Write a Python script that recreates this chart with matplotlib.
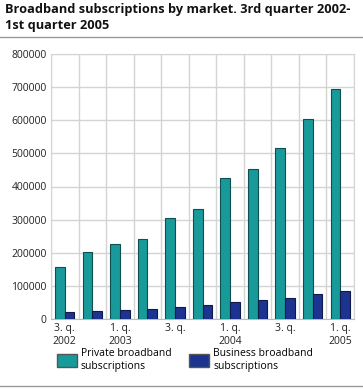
import matplotlib
matplotlib.use("Agg")
import matplotlib.pyplot as plt
import numpy as np
from matplotlib.patches import Patch

categories = ["3. q.\n2002", "", "1. q.\n2003", "", "3. q.", "", "1. q.\n2004", "", "3. q.", "", "1. q.\n2005"]
private = [157000, 201000, 225000, 242000, 306000, 333000, 427000, 454000, 516000, 604000, 694000]
business = [20000, 23000, 26000, 31000, 37000, 43000, 51000, 58000, 64000, 76000, 84000]
yticks = [0, 100000, 200000, 300000, 400000, 500000, 600000, 700000, 800000]
series_names = ["Private broadband\nsubscriptions", "Business broadband\nsubscriptions"]

plt.rcParams['font.family'] = ['Open Sans', 'DejaVu Sans']

fig = plt.figure(figsize=(3.63, 3.90), dpi=100)
ax = fig.add_axes([51/363, 1-319/390, 303/363, 265/390])

x = np.arange(len(private))
w = 0.35
teal = "#18999a"
navy = "#1c3490"
ax.bar(x - w/2, private, width=w, color=teal, edgecolor="#0f4f4f", linewidth=0.8, zorder=3)
ax.bar(x + w/2, business, width=w, color=navy, edgecolor="#0e1a4a", linewidth=0.8, zorder=3)

ax.set_xlim(-0.5, len(private) - 0.5)
ax.set_ylim(0, 800000)
ax.set_yticks(yticks)
ax.set_yticklabels([str(v) for v in yticks], fontsize=7.5, color="#222222")
ax.set_xticks(x)
ax.set_xticklabels(categories, fontsize=7.5, color="#222222", linespacing=1.2)
ax.tick_params(axis='both', length=0, pad=3)
ax.set_xticks(np.arange(-0.5, len(private), 1), minor=True)
ax.tick_params(axis='x', which='minor', length=0)
ax.grid(True, axis='y', color="#d4d4d4", linewidth=1, zorder=0)
ax.grid(True, axis='x', which='minor', color="#d4d4d4", linewidth=1, zorder=0)
for s in ["left", "top", "right"]:
    ax.spines[s].set_color("#d4d4d4")
ax.spines["bottom"].set_color("#bbbbbb")

fig.text(5/363, 1-3/390, "Broadband subscriptions by market. 3rd quarter 2002-\n1st quarter 2005",
         fontsize=9.2, fontweight='bold', va='top', ha='left', linespacing=1.3, color="#111111")
fig.add_artist(plt.Line2D([0, 1], [1-37/390, 1-37/390], color="#999999", linewidth=1))
fig.add_artist(plt.Line2D([0, 1], [1-386/390, 1-386/390], color="#999999", linewidth=1))

handles = [Patch(facecolor=teal, edgecolor="#555555"), Patch(facecolor=navy, edgecolor="#555555")]
fig.legend(handles, series_names, loc='upper left', bbox_to_anchor=(57/363, 1-348/390), ncol=2,
           frameon=False, fontsize=7.5, handlelength=1.9, handleheight=1.5, columnspacing=1.7,
           handletextpad=0.4, borderaxespad=0, borderpad=0)

fig.savefig("out.png", dpi=100)
